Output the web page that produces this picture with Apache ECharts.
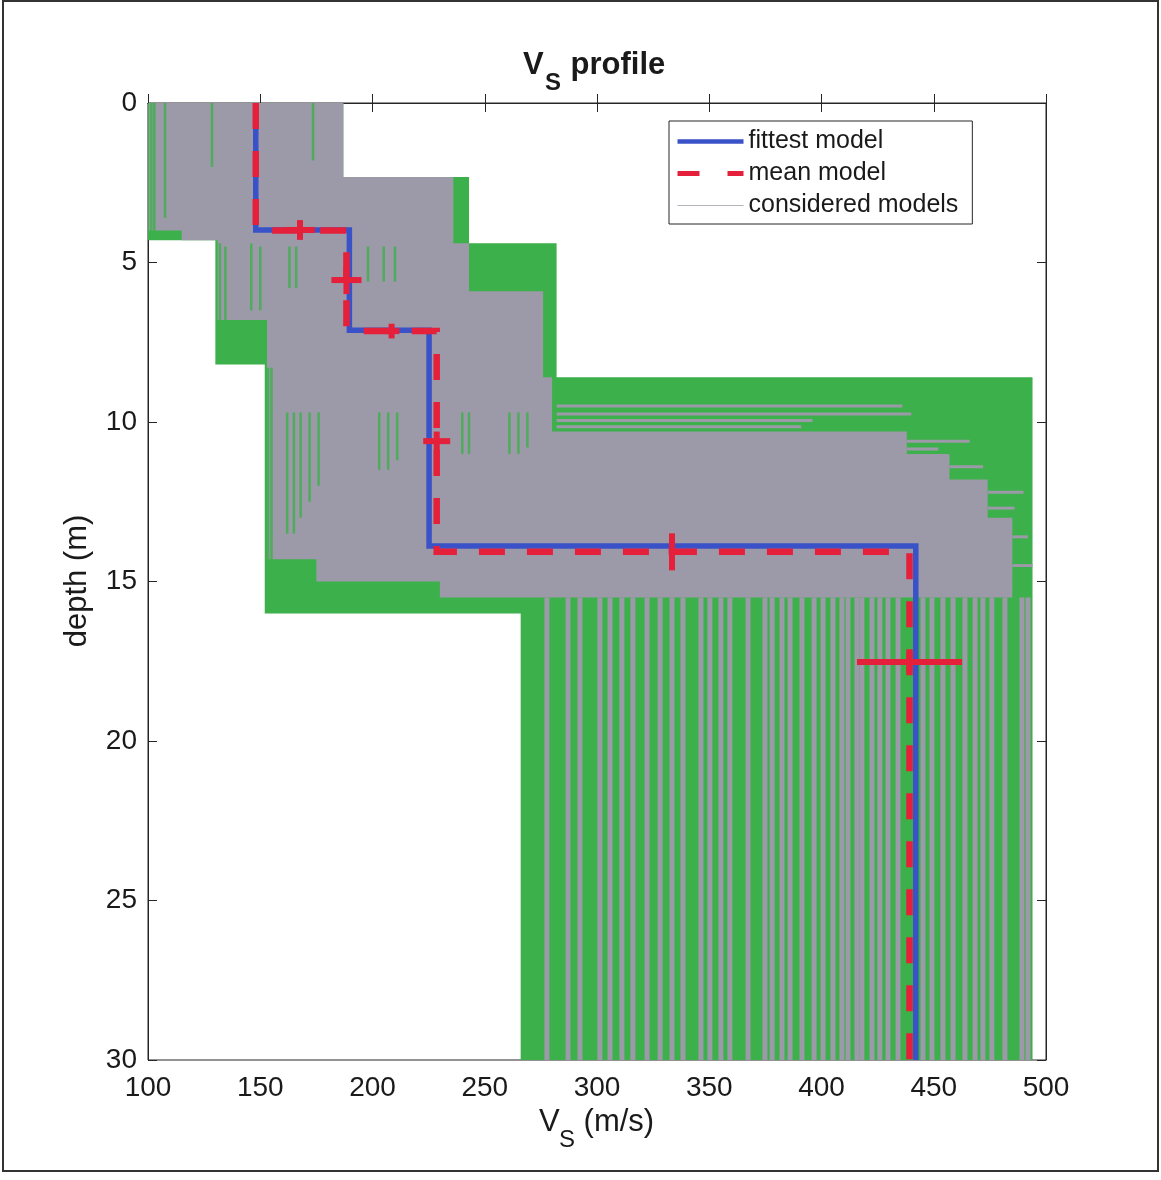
<!DOCTYPE html>
<html><head><meta charset="utf-8">
<script src="https://cdn.jsdelivr.net/npm/echarts@6/dist/echarts.min.js"></script>
<style>html,body{margin:0;padding:0;background:#fff}#c{width:1161px;height:1180px}</style>
</head><body><div id="c"></div><script>
// ---- axis ranges ----
const X_MIN = 100, X_MAX = 500, X_STEP = 50;
const Y_MIN = 0, Y_MAX = 30, Y_STEP = 5;

// ---- fittest model (blue) : layer velocities and interface depths ----
const fittestVs = [148, 189.7, 225.2, 442];
const fittestInterfaces = [3.98, 7.12, 13.89];

// ---- mean model (red dashed) ----
const meanVs = [148, 188.4, 228.6, 439.2];
const meanInterfaces = [4.0, 7.15, 14.07];

// ---- error crosses on mean model ----
const errV = [167.7, 188.4, 208.5, 228.6, 333.4, 439.2];
const errD = [3.98, 5.55, 7.15, 10.6, 14.07, 17.52];
const errHalfV = [6.7, 6.7, 3.5, 6, 1.5, 23.4];
const errHalfD = [0.31, 0.44, 0.23, 0.3, 0.58, 0.3];

// ---- considered models: search space outline (green) [Vs, depth] ----
const searchSpace = [[100,0],[187,0],[187,2.32],[243,2.32],[243,4.4],[282,4.4],[282,8.6],[494,8.6],[494,30],[266,30],[266,16],[152,16],[152,8.2],[130,8.2],[130,4.3],[100,4.3]];
// dense overlap of considered models (gray)
const denseModels = [[100.5,0],[187,0],[187,2.32],[236,2.32],[236,4.4],[243,4.4],[243,5.9],[276,5.9],[276,8.6],[280,8.6],[280,10.3],[438,10.3],[438,11.0],[457,11.0],[457,11.8],[474,11.8],[474,13.0],[485,13.0],[485,15.5],[230,15.5],[230,15.0],[175,15.0],[175,14.3],[153,14.3],[153,6.8],[131,6.8],[131,4.3],[115,4.3],[115,4.0],[100.5,4.0]];
// gray model lines in the deepest layer
const grayStripesV = [277.7,287.1,292.4,301.3,305.8,311.1,316,322.3,328.1,333.4,338.3,346.3,350.3,355.2,359.2,367.3,374.8,378,382.4,386,391.3,396.7,400.7,405.1,409.1,411.8,415.8,418,422.5,426,429.6,434.1,445.2,449.2,454.1,458.6,463.9,468.4,471.9,475.9,481.7,489.3,492];
const stripeTop = [15.5];
// green vertical streaks inside gray [Vs, top, bottom]
const greenVStreaks = [[101.5,0,4.2],[102.8,0,4.0],[107.6,0,3.6],[128.5,0,2.0],[173.5,0,1.8],
  [132,4.4,8.0],[134.5,4.5,7.8],[146,4.4,6.5],[150,4.5,6.5],[163,4.5,5.8],[166,4.5,5.8],[198,4.5,5.6],[205,4.5,5.6],[210,4.5,5.6],
  [153.5,8.3,15.5],[155,8.3,15.0],[162,9.7,13.5],[165,9.7,13.5],[168,9.7,13.0],[172,9.7,12.5],[176,9.7,12.0],[203,9.7,11.5],[207,9.7,11.5],[211,9.7,11.2],[240,9.7,11.0],[243,9.7,11.0],[261,9.7,11.0],[265,9.7,11.0],[269,9.7,10.8]];
// gray horizontal streaks over green [depth, left Vs, right Vs]
const grayHStreaks = [[9.5,282,436],[9.75,282,440],[9.95,282,396],[10.15,282,391],[10.6,438,466],[10.85,438,452],[11.4,457,472],[12.2,474,490],[12.7,474,486],[13.6,485,492],[14.5,485,494]];

const GREEN = '#3cb04a', GRAY = '#9c99a8', BLUE = '#3a52c8', RED = '#e5203a';
const FONT = "'Liberation Sans', Arial, Helvetica, sans-serif";
const TXT = '#1a1a1a';

function steps(vs, ifs) {
  const pts = []; let top = Y_MIN;
  vs.forEach((v, i) => { const bot = i < ifs.length ? ifs[i] : Y_MAX; pts.push([v, top]); pts.push([v, bot]); top = bot; });
  return pts;
}

const chart = echarts.init(document.getElementById('c'), null, {renderer: 'canvas'});
const axisBase = {
  axisLine: {show: true, lineStyle: {color: '#262626', width: 1}},
  axisTick: {show: true, inside: true, length: 9, lineStyle: {color: '#262626', width: 1}},
  splitLine: {show: false}
};
function polySeries(pts, color, z) {
  return {type: 'custom', silent: true, z: z, data: [[X_MIN, Y_MIN]],
    renderItem: (p, api) => ({type: 'polygon', shape: {points: pts.map(pt => api.coord(pt))}, style: {fill: color}})};
}
const option = {
  animation: false,
  grid: {left: 148, right: 115, top: 103, bottom: 120, show: true, borderColor: '#262626', borderWidth: 1},
  xAxis: [
    Object.assign({type: 'value', min: X_MIN, max: X_MAX, interval: X_STEP, position: 'bottom',
      axisLabel: {fontSize: 28, color: TXT, margin: 14, fontFamily: FONT}}, axisBase),
    Object.assign({type: 'value', min: X_MIN, max: X_MAX, interval: X_STEP, position: 'top',
      axisLabel: {show: false}}, axisBase)
  ],
  yAxis: [
    Object.assign({type: 'value', inverse: true, min: Y_MIN, max: Y_MAX, interval: Y_STEP, position: 'left',
      axisLabel: {fontSize: 28, color: TXT, margin: 11, fontFamily: FONT}}, axisBase),
    Object.assign({type: 'value', inverse: true, min: Y_MIN, max: Y_MAX, interval: Y_STEP, position: 'right',
      axisLabel: {show: false}}, axisBase)
  ],
  legend: {
    data: [
      {name: 'fittest model', lineStyle: {width: 4.5}},
      {name: 'mean model', lineStyle: {width: 5, type: [22, 28]}},
      {name: 'considered models', lineStyle: {width: 1}}
    ],
    orient: 'vertical', left: 669, top: 121, itemWidth: 66, itemHeight: 14, itemGap: 7,
    padding: [8, 14, 6, 6], borderColor: '#262626', borderWidth: 1, backgroundColor: '#fff', borderRadius: 0,
    itemStyle: {opacity: 0},
    selectedMode: false, textStyle: {fontSize: 25, color: TXT, fontFamily: FONT}
  },
  series: [
    polySeries(searchSpace, GREEN, 1),
    polySeries(denseModels, GRAY, 2),
    {type: 'custom', silent: true, z: 3, data: grayStripesV.map(v => [v, stripeTop[0], Y_MAX]), encode: {x: 0, y: [1, 2]},
      renderItem: (p, api) => { const a = api.coord([api.value(0), api.value(1)]), b = api.coord([api.value(0), api.value(2)]);
        return {type: 'line', shape: {x1: a[0], y1: a[1], x2: b[0], y2: b[1]}, style: {stroke: GRAY, lineWidth: 5}}; }},
    {type: 'custom', silent: true, z: 3, data: greenVStreaks, encode: {x: 0, y: [1, 2]},
      renderItem: (p, api) => { const a = api.coord([api.value(0), api.value(1)]), b = api.coord([api.value(0), api.value(2)]);
        return {type: 'line', shape: {x1: a[0], y1: a[1], x2: b[0], y2: b[1]}, style: {stroke: GREEN, lineWidth: 2.5, opacity: 0.8}}; }},
    {type: 'custom', silent: true, z: 3, data: grayHStreaks.map(s => [s[1], s[0], s[2]]), encode: {x: [0, 2], y: 1},
      renderItem: (p, api) => { const a = api.coord([api.value(0), api.value(1)]), b = api.coord([api.value(2), api.value(1)]);
        return {type: 'line', shape: {x1: a[0], y1: a[1], x2: b[0], y2: b[1]}, style: {stroke: GRAY, lineWidth: 3}}; }},
    {type: 'line', name: 'considered models', data: [], symbol: 'none', lineStyle: {color: '#b4b4bc', width: 1}},
    {type: 'line', name: 'fittest model', data: steps(fittestVs, fittestInterfaces), symbol: 'none', z: 5,
      lineStyle: {color: BLUE, width: 5.5, cap: 'butt', join: 'miter'}, itemStyle: {color: BLUE}},
    {type: 'line', name: 'mean model', data: steps(meanVs, meanInterfaces), symbol: 'none', z: 6,
      lineStyle: {color: RED, width: 6.5, type: [26, 22], cap: 'butt', join: 'miter'}, itemStyle: {color: RED}},
    {type: 'custom', silent: true, z: 7, data: errV.map((v, i) => [v, errD[i], errHalfV[i], errHalfD[i]]), encode: {x: 0, y: 1},
      renderItem: (p, api) => {
        const v = api.value(0), d = api.value(1), hv = api.value(2), hd = api.value(3);
        const l = api.coord([v - hv, d]), r = api.coord([v + hv, d]), t = api.coord([v, d - hd]), b = api.coord([v, d + hd]);
        return {type: 'group', children: [
          {type: 'line', shape: {x1: l[0], y1: l[1], x2: r[0], y2: r[1]}, style: {stroke: RED, lineWidth: 6}},
          {type: 'line', shape: {x1: t[0], y1: t[1], x2: b[0], y2: b[1]}, style: {stroke: RED, lineWidth: 6}}
        ]};
      }}
  ],
  graphic: [
    {type: 'rect', shape: {x: 3, y: 1, width: 1155, height: 1170}, style: {fill: null, stroke: '#333', lineWidth: 2}, silent: true},
    {type: 'text', x: 523, y: 65.3, style: {text: 'V', font: "bold 31px " + FONT, fill: TXT, align: 'left', verticalAlign: 'middle'}},
    {type: 'text', x: 545, y: 83.4, style: {text: 'S', font: "bold 24px " + FONT, fill: TXT, align: 'left', verticalAlign: 'middle'}},
    {type: 'text', x: 562, y: 65.3, style: {text: ' profile', font: "bold 31px " + FONT, fill: TXT, align: 'left', verticalAlign: 'middle'}},
    {type: 'text', x: 539, y: 1122, style: {text: 'V', font: "31px " + FONT, fill: TXT, align: 'left', verticalAlign: 'middle'}},
    {type: 'text', x: 559, y: 1140, style: {text: 'S', font: "24px " + FONT, fill: TXT, align: 'left', verticalAlign: 'middle'}},
    {type: 'text', x: 575, y: 1122, style: {text: ' (m/s)', font: "31px " + FONT, fill: TXT, align: 'left', verticalAlign: 'middle'}},
    {type: 'text', x: 77.5, y: 581, rotation: Math.PI / 2, style: {text: 'depth (m)', font: "31px " + FONT, fill: TXT, align: 'center', verticalAlign: 'middle'}}
  ]
};
chart.setOption(option);
</script></body></html>
